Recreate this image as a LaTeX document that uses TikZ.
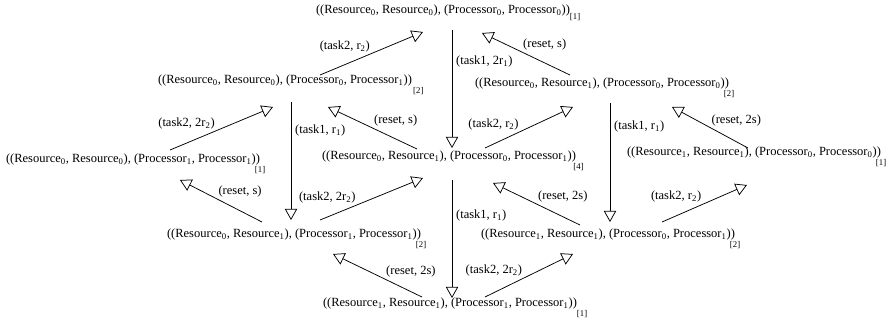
\documentclass[tikz,border=0pt]{standalone}
\usepackage{fontspec}
\setmainfont{Liberation Serif}
\usetikzlibrary{arrows.meta, positioning}

\newcommand{\lo}[1]{\textsubscript{#1}}
\newcommand{\mult}[2][-4pt]{\rlap{\kern#1\raisebox{-8pt}{\scriptsize[#2]}}}
\newcommand{\st}[4]{((Resource\lo{#1}, Resource\lo{#2}), (Processor\lo{#3}, Processor\lo{#4}))}

\begin{document}
\begin{tikzpicture}[
			x=0.8pt, y=-0.8pt,
			every node/.style={font=\fontsize{10}{12}\selectfont},
			state/.style={inner sep=0pt},
			arr/.style={-{Triangle[open, length=9pt, width=10pt]}, line width=0.6pt},
			lbl/.style={inner sep=1pt},
			]
			\useasboundingbox (0,0) rectangle (889,326);
			% =============================================================
			%  STATES
			% =============================================================
			\node[state] (top)   at (443,13)  {\st{0}{0}{0}{0}\rlap{\raisebox{-4.5pt}{\scriptsize[1]}}};
			\node[state] (n01)   at (285,85)  {\st{0}{0}{0}{1}\mult[1pt]{2}};
			\node[state] (n10)   at (602,88)  {\st{0}{1}{0}{0}\mult{2}};
			\node[state] (n011)  at (133,164) {\st{0}{0}{1}{1}\mult{1}};
			\node[state] (n4)    at (449,161) {\st{0}{1}{0}{1}\mult[-2pt]{4}};
			\node[state] (n1100) at (754,157) {\st{1}{1}{0}{0}\mult{1}};
			\node[state] (n0111) at (294,239) {\st{0}{1}{1}{1}\mult{2}};
			\node[state] (n1101) at (608,239) {\st{1}{1}{0}{1}\mult{2}};
			\node[state] (bot)   at (450,308) {\st{1}{1}{1}{1}\mult[0pt]{1}};

			% =============================================================
			%  TRANSITIONS
			% =============================================================
			% --- task1 (down) ---
			\draw[arr] ([shift={(9,17)}]top.center) -- ([shift={(3,-13)}]n4.center)
			node[lbl, pos=0.27, anchor=west, xshift=2pt] {(task1, 2r\lo{1})};
			\draw[arr] ([shift={(6,17)}]n01.center) -- ([shift={(-3,-19)}]n0111.center)
			node[lbl, pos=0.24, anchor=west, xshift=2pt] {(task1, r\lo{1})};
			\draw[arr] ([shift={(8,15)}]n10.center) -- ([shift={(2,-17)}]n1101.center)
			node[lbl, pos=0.2, anchor=west, xshift=2pt] {(task1, r\lo{1})};
			\draw[arr] ([shift={(3,19)}]n4.center) -- ([shift={(2,-10)}]bot.center)
			node[lbl, pos=0.3, anchor=west, xshift=2pt] {(task1, r\lo{1})};

			% --- task2 (up right) ---
			\draw[arr] ([shift={(35,-10)}]n01.center) -- ([shift={(-20,19)}]top.center)
			node[lbl, pos=0.5, anchor=south east] {(task2, r\lo{2})};
			\draw[arr] ([shift={(37,-14)}]n011.center) -- ([shift={(-12,22)}]n01.center)
			node[lbl, pos=0.45, anchor=south east] {(task2, 2r\lo{2})};
			\draw[arr] ([shift={(36,-13)}]n4.center) -- ([shift={(-29,19)}]n10.center)
			node[lbl, pos=0.4, anchor=south east] {(task2, r\lo{2})};
			\draw[arr] ([shift={(26,-19)}]n0111.center) -- ([shift={(-26,17)}]n4.center)
			node[lbl, pos=0.36, anchor=south east] {(task2, 2r\lo{2})};
			\draw[arr] ([shift={(54,-17)}]n1101.center) -- ([shift={(-7,28)}]n1100.center)
			node[lbl, pos=0.48, anchor=south east] {(task2, r\lo{2})};
			\draw[arr] ([shift={(35,-11)}]bot.center) -- ([shift={(-35,15)}]n1101.center)
			node[lbl, pos=0.44, anchor=south east] {(task2, 2r\lo{2})};

			% --- reset (up left) ---
			\draw[arr] ([shift={(-32,-13)}]n10.center) -- ([shift={(39,20)}]top.center)
			node[lbl, pos=0.55, anchor=south west] {(reset, s)};
			\draw[arr] ([shift={(-32,-12)}]n4.center) -- ([shift={(43,22)}]n01.center)
			node[lbl, pos=0.5, anchor=south west] {(reset, s)};
			\draw[arr] ([shift={(-6,-9)}]n1100.center) -- ([shift={(70,19)}]n10.center)
			node[lbl, pos=0.5, anchor=south west] {(reset, 2s)};
			\draw[arr] ([shift={(-32,-17)}]n0111.center) -- ([shift={(47,16)}]n011.center)
			node[lbl, pos=0.55, anchor=south west] {(reset, s)};
			\draw[arr] ([shift={(-28,-14)}]n1101.center) -- ([shift={(44,22)}]n4.center)
			node[lbl, pos=0.5, anchor=south west] {(reset, 2s)};
			\draw[arr] ([shift={(-28,-11)}]bot.center) -- ([shift={(39,15)}]n0111.center)
			node[lbl, pos=0.42, anchor=south west] {(reset, 2s)};
		\end{tikzpicture}
\end{document}
